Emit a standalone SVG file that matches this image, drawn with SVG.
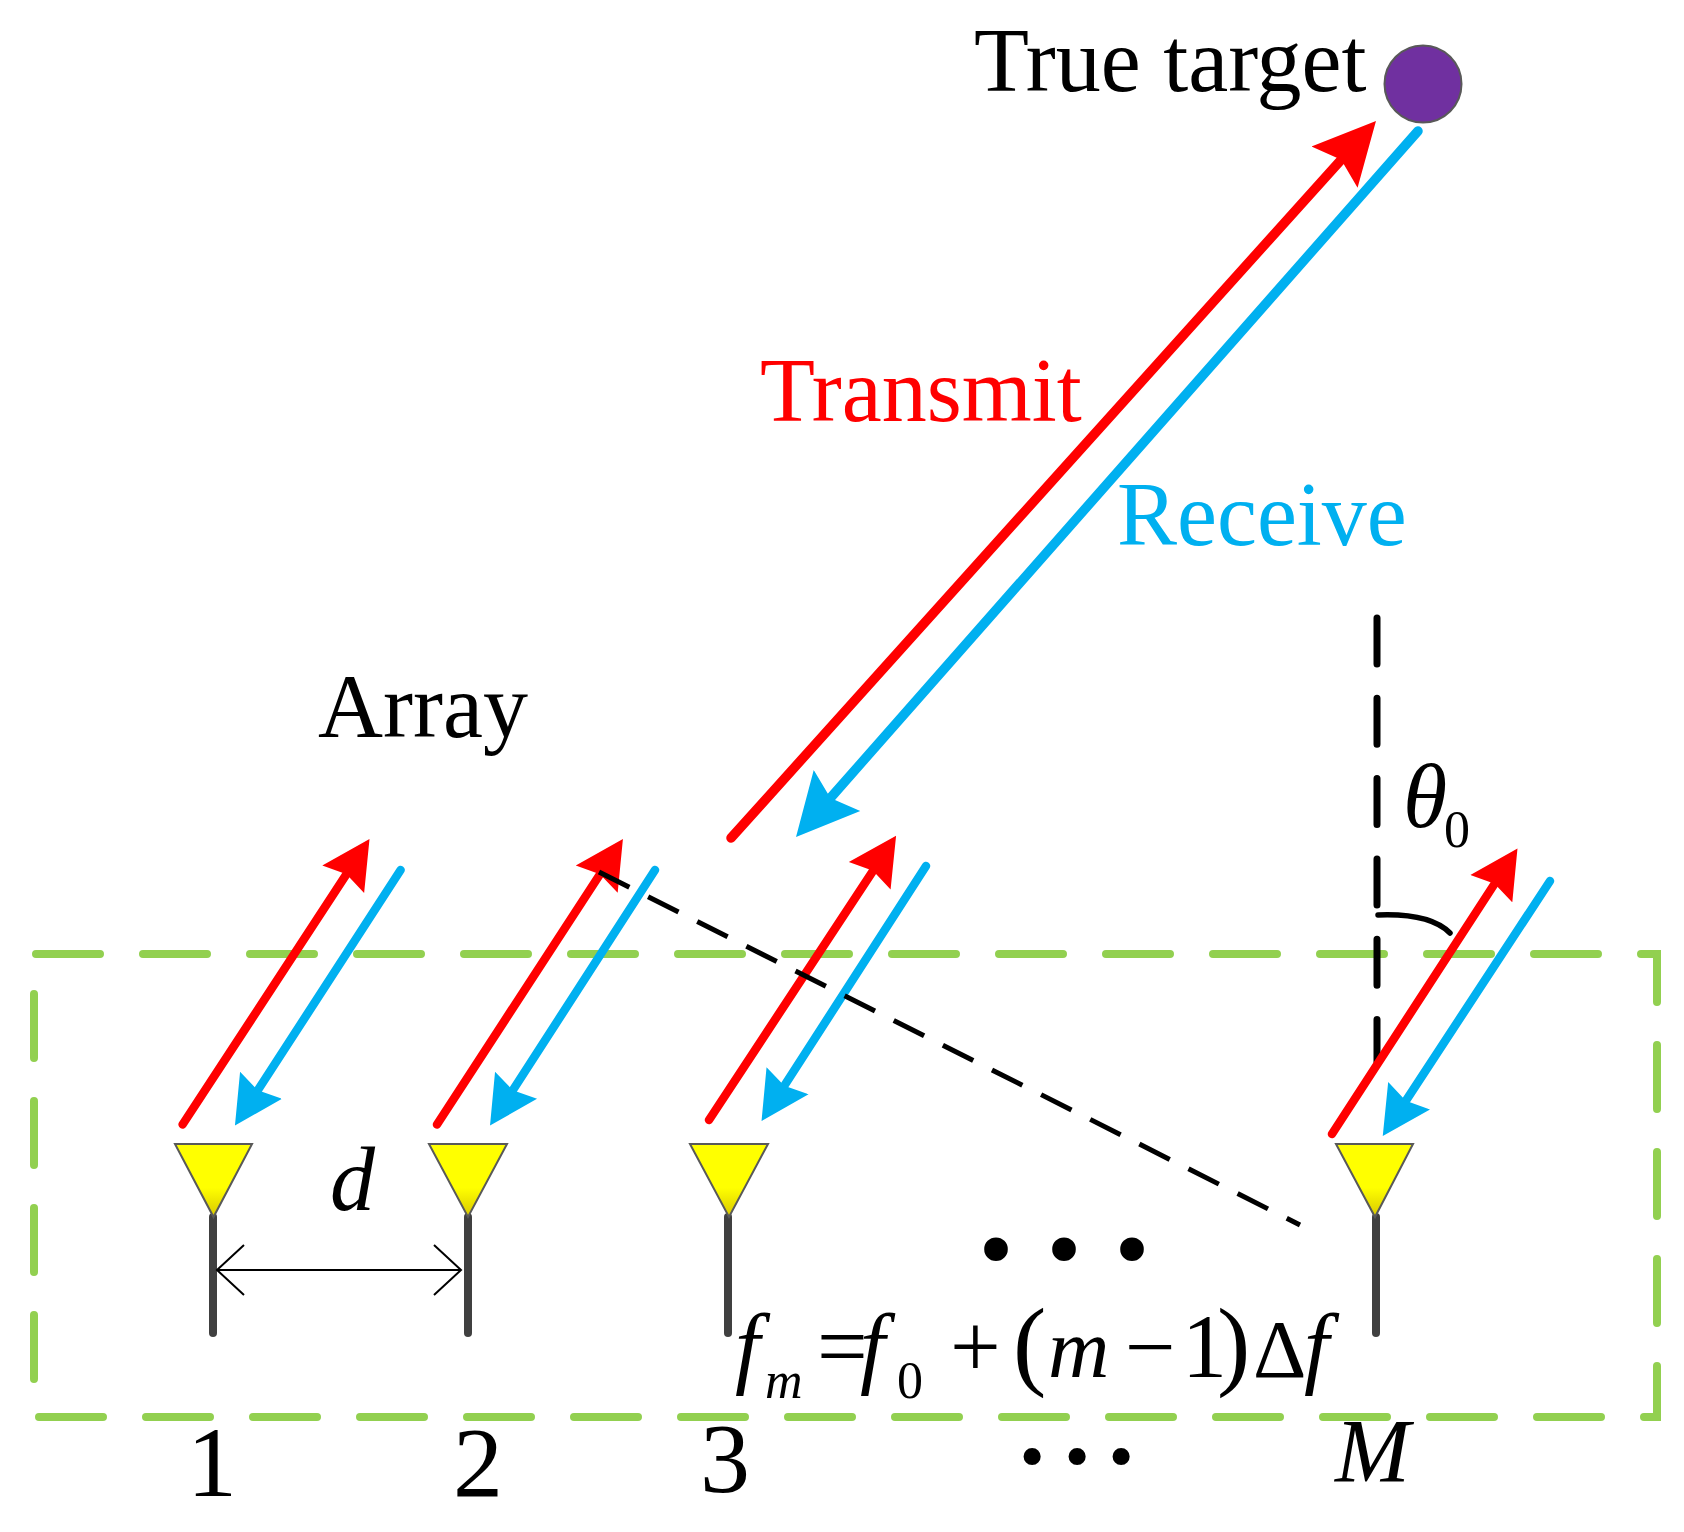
<svg xmlns="http://www.w3.org/2000/svg" width="1684" height="1532" viewBox="0 0 1684 1532">
<style>
text{font-family:"Liberation Serif","Times New Roman",serif;fill:#000}
.i{font-style:italic}
.big{font-size:90px}
.num{font-size:100px}
.sub{font-size:52px}
.fm{font-size:90px}
.tx{stroke:#FF0000;stroke-width:8.5;stroke-linecap:round;fill:none}
.rx{stroke:#00B0F0;stroke-width:8.5;stroke-linecap:round;fill:none}
.tri{fill:url(#yg);stroke:#595959;stroke-width:2}
.pole{stroke:#404040;stroke-width:8;stroke-linecap:round;fill:none}
</style>
<defs>
<linearGradient id="yg" x1="0" y1="0" x2="0" y2="1"><stop offset="0.6" stop-color="#FFFF00"/><stop offset="1" stop-color="#D8C800"/></linearGradient>
<marker id="rs" markerUnits="userSpaceOnUse" viewBox="0 -26 48 52" refX="6" refY="0" markerWidth="48" markerHeight="52" orient="auto"><path d="M0,-25L48,0L0,25L6,0Z" fill="#FF0000"/></marker>
<marker id="bs" markerUnits="userSpaceOnUse" viewBox="0 -26 48 52" refX="6" refY="0" markerWidth="48" markerHeight="52" orient="auto"><path d="M0,-25L48,0L0,25L6,0Z" fill="#00B0F0"/></marker>
<marker id="rb" markerUnits="userSpaceOnUse" viewBox="0 -32 62 64" refX="10" refY="0" markerWidth="62" markerHeight="64" orient="auto"><path d="M0,-31L62,0L0,31L10,0Z" fill="#FF0000"/></marker>
<marker id="bb" markerUnits="userSpaceOnUse" viewBox="0 -32 62 64" refX="10" refY="0" markerWidth="62" markerHeight="64" orient="auto"><path d="M0,-31L62,0L0,31L10,0Z" fill="#00B0F0"/></marker>
</defs>
<rect width="1684" height="1532" fill="#fff"/>
<g id="array-box"><path d="M34,954H1657V1417H34Z" fill="none" stroke="#92D050" stroke-width="8" stroke-linecap="round" stroke-dasharray="64 43" stroke-dashoffset="-2"/></g>
<g id="antenna-1"><line class="pole" x1="213" y1="1217" x2="213" y2="1333"/><polygon class="tri" points="175,1144 252,1144 213.5,1217"/></g>
<g id="antenna-2"><line class="pole" x1="468" y1="1217" x2="468" y2="1333"/><polygon class="tri" points="429,1144 507,1144 468,1217"/></g>
<g id="antenna-3"><line class="pole" x1="728" y1="1217" x2="728" y2="1333"/><polygon class="tri" points="690,1144 768,1144 729,1217"/></g>
<g id="antenna-M"><line class="pole" x1="1376" y1="1217" x2="1376" y2="1333"/><polygon class="tri" points="1336,1144 1413,1144 1375,1217"/></g>
<g id="target"><circle cx="1423" cy="84" r="38.5" fill="#7030A0" stroke="#595959" stroke-width="2"/></g>
<g id="connectors">
<line x1="1377" y1="618" x2="1377" y2="1062" stroke="#000" stroke-width="7" stroke-linecap="round" stroke-dasharray="46 34.3"/>
<path d="M1378,915Q1430,913 1450,933" fill="none" stroke="#000" stroke-width="5.5" stroke-linecap="round"/>
<line class="tx" x1="731" y1="838" x2="1341.2" y2="159.7" marker-end="url(#rb)" style="stroke-width:9.5"/>
<line class="rx" x1="1418" y1="131" x2="830.4" y2="798" marker-end="url(#bb)" style="stroke-width:9.5"/>
<line class="tx" x1="182.6" y1="1124.5" x2="346.5" y2="874.2" marker-end="url(#rs)"/>
<line class="rx" x1="400.6" y1="870" x2="257.8" y2="1090.3" marker-end="url(#bs)"/>
<line class="tx" x1="437" y1="1124.5" x2="600" y2="874.2" marker-end="url(#rs)"/>
<line class="rx" x1="655" y1="870" x2="512.8" y2="1090.3" marker-end="url(#bs)"/>
<line class="tx" x1="709" y1="1120" x2="873" y2="870.8" marker-end="url(#rs)"/>
<line class="rx" x1="926" y1="866" x2="784.3" y2="1085.8" marker-end="url(#bs)"/>
<line class="tx" x1="1332" y1="1134" x2="1494.6" y2="883.7" marker-end="url(#rs)"/>
<line class="rx" x1="1550" y1="881" x2="1405.8" y2="1100.8" marker-end="url(#bs)"/>
<line x1="599" y1="872" x2="1300" y2="1225" stroke="#000" stroke-width="5" stroke-dasharray="34 21"/>
<path d="M217,1270H461M244,1245L217,1270L244,1295M434,1245L461,1270L434,1295" fill="none" stroke="#000" stroke-width="2"/>
</g>
<g id="labels">
<text class="big" x="974" y="91">True target</text>
<text class="big" x="760" y="421" style="fill:#FF0000">Transmit</text>
<text class="big" x="1117" y="545" style="fill:#00B0F0">Receive</text>
<text class="big" x="318" y="737">Array</text>
<text class="num" x="187" y="1496">1</text>
<text class="num" x="453" y="1496">2</text>
<text class="num" x="700" y="1492">3</text>
<text class="i fm" x="1335" y="1482">M</text>
<text class="i" style="font-size:90px" x="330" y="1210">d</text>
<text class="i fm" x="1403" y="827">θ</text>
<text class="sub" x="1444" y="847">0</text>
<text style="font-size:200px" x="971 1039 1107" y="1258">...</text>
<text style="font-size:145px" x="1014 1059 1103" y="1463">...</text>
<text class="fm"><tspan class="i" x="735" y="1377">f</tspan><tspan class="i sub" x="765" y="1398">m</tspan><tspan x="817" y="1377">=</tspan><tspan class="i" x="860" y="1377">f</tspan><tspan class="sub" x="897" y="1398">0</tspan><tspan x="950" y="1377">+</tspan><tspan x="1013" y="1377" style="font-size:100px">(</tspan><tspan class="i" x="1048" y="1377" style="font-size:85px">m</tspan><tspan x="1125" y="1377">−</tspan><tspan x="1182" y="1377">1</tspan><tspan x="1217" y="1377" style="font-size:100px">)</tspan><tspan x="1253" y="1377" style="font-size:83px">Δ</tspan><tspan class="i" x="1304" y="1377">f</tspan></text>
</g>
</svg>
